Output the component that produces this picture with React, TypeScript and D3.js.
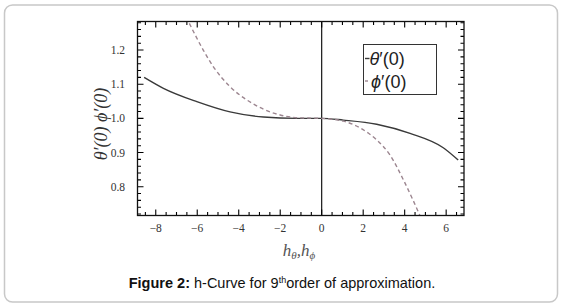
import React from "react";
import * as d3 from "d3";

const thetaX = [-8.56, -7.63, -6.02, -4.42, -2.81, -1.2, 0, 1.04, 2.65, 4.26, 5.86, 6.58];
const thetaY = [1.12, 1.088, 1.049, 1.019, 1.004, 1.0, 1.0, 0.995, 0.983, 0.956, 0.914, 0.878];
const phiX = [-6.38, -5.71, -5.22, -4.42, -3.61, -2.81, -2.0, -1.2, 0, 1.04, 1.85, 2.65, 3.29, 3.98, 4.74];
const phiY = [1.278, 1.2, 1.151, 1.093, 1.054, 1.027, 1.01, 1.002, 1.0, 0.992, 0.972, 0.937, 0.893, 0.815, 0.715];
const xTicks = [-8, -6, -4, -2, 0, 2, 4, 6];
const yTicks = [0.8, 0.9, 1.0, 1.1, 1.2];
const xDomain = [-8.88, 6.86];
const yDomain = [0.7158, 1.2836];

export default function App() {
  const W = 562, H = 308;
  const L = 137.5, R = 464, T = 21.5, B = 215.5;
  const x = d3.scaleLinear().domain(xDomain).range([L, R]);
  const y = d3.scaleLinear().domain(yDomain).range([B, T]);
  const line = d3
    .line<[number, number]>()
    .x(d => x(d[0]))
    .y(d => y(d[1]))
    .curve(d3.curveMonotoneX);
  const thetaPts: [number, number][] = thetaX.map((v, i) => [v, thetaY[i]]);
  const phiPts: [number, number][] = phiX.map((v, i) => [v, phiY[i]]);

  const xMinor = d3.range(-8.5, 6.9, 0.5).filter(v => v >= xDomain[0] && v <= xDomain[1]);
  const yMinor = d3.range(0.72, 1.285, 0.02);
  const tickCol = "#000";

  const tickPath =
    xMinor.map(v => `M${x(v)},${B}v-3.5M${x(v)},${T}v3.5`).join("") +
    xTicks.map(v => `M${x(v)},${B}v-6M${x(v)},${T}v6`).join("") +
    yMinor.map(v => `M${L},${y(v)}h3.5M${R},${y(v)}h-3.5`).join("") +
    yTicks.map(v => `M${L},${y(v)}h6M${R},${y(v)}h-6`).join("");

  return (
    <svg width={W} height={H} style={{ position: "absolute", left: 0, top: 0 }}>
      <rect x={4.5} y={5} width={553} height={297} rx={8} fill="#fff" stroke="#c8c8c8" strokeWidth={1.5} />
      <defs>
        <clipPath id="plotclip">
          <rect x={L} y={T} width={R - L} height={B - T} />
        </clipPath>
      </defs>
      <g clipPath="url(#plotclip)">
        <line x1={x(0)} x2={x(0)} y1={T} y2={B} stroke="#000" strokeWidth={1.1} />
        <path d={line(thetaPts) || ""} fill="none" stroke="#3a3a3a" strokeWidth={1.4} />
        <path d={line(phiPts) || ""} fill="none" stroke="#9c8690" strokeWidth={1.4} strokeDasharray="4,3" />
      </g>
      <path d={tickPath} stroke={tickCol} strokeWidth={1.1} fill="none" />
      <rect x={L} y={T} width={R - L} height={B - T} fill="none" stroke="#111" strokeWidth={1.3} />
      {xTicks.map((v, i) => (
        <text key={"xl" + i} x={x(v)} y={232} textAnchor="middle" fontFamily="Liberation Serif" fontSize={11.5} fill="#333">
          {v < 0 ? "\u2212" + Math.abs(v) : String(v)}
        </text>
      ))}
      {yTicks.map((v, i) => (
        <text key={"yl" + i} x={125} y={y(v) + 4} textAnchor="end" fontFamily="Liberation Serif" fontSize={11.5} fill="#333">
          {v.toFixed(1)}
        </text>
      ))}
      <rect x={363.5} y={44.5} width={73} height={50} fill="#fff" stroke="#333" strokeWidth={1} />
      <line x1={365} x2={369.5} y1={58.5} y2={58.5} stroke="#3a3a3a" strokeWidth={1.4} />
      <text x={369.5} y={65} fontFamily="Liberation Sans" fontSize={18} fill="#222">
        <tspan fontStyle="italic">θ</tspan>′(0)
      </text>
      <line x1={365} x2={368} y1={81} y2={81} stroke="#9c8690" strokeWidth={1.4} />
      <text x={371} y={87.5} fontFamily="Liberation Sans" fontSize={18} fill="#222">
        <tspan fontStyle="italic">ϕ</tspan>′(0)
      </text>
      <text transform={`translate(107,124) rotate(-90)`} textAnchor="middle" fontFamily="Liberation Serif" fontStyle="italic" fontSize={18} fill="#333">
        θ′(0) ϕ′(0)
      </text>
      <text x={299} y={256} textAnchor="middle" fontFamily="Liberation Serif" fontStyle="italic" fontSize={17} fill="#555">
        h<tspan fontSize={11} dy={3}>θ</tspan><tspan dy={-3}>,h</tspan><tspan fontSize={11} dy={3}>ϕ</tspan>
      </text>
      <text x={282} y={288} textAnchor="middle" fontFamily="Liberation Sans" fontSize={14.5} fill="#111">
        <tspan fontWeight="bold">Figure 2:</tspan> h-Curve for 9<tspan fontSize={9} dy={-5}>th</tspan><tspan dy={5}>order of approximation.</tspan>
      </text>
    </svg>
  );
}
